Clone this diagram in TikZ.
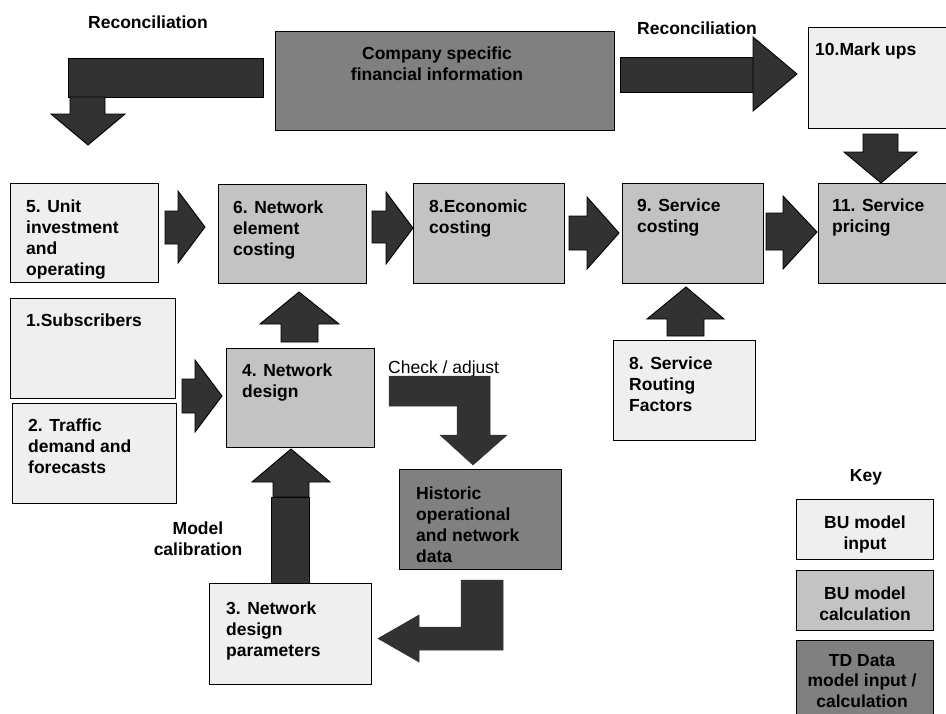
\documentclass[tikz,border=0pt]{standalone}
\usepackage{fontspec}
\setmainfont{Liberation Sans}
\definecolor{inpc}{HTML}{EFEFEF}
\definecolor{calcc}{HTML}{C3C3C3}
\definecolor{tdc}{HTML}{808080}
\definecolor{arrc}{HTML}{323232}
\tikzset{
  box/.style={draw=black, line width=1.3pt, inner sep=0pt, anchor=north west},
  inpbox/.style={box, fill=inpc},
  calcbox/.style={box, fill=calcc},
  tdbox/.style={box, fill=tdc},
  barrow/.style={fill=arrc, draw=black, line width=0.9pt, line join=miter},
  flatarrow/.style={fill=arrc, draw=arrc, line width=0.5pt},
  txt/.style={font=\bfseries\fontsize{17.5}{21}\selectfont, align=left, anchor=north west, inner sep=0pt},
  ctxt/.style={font=\bfseries\fontsize{17.5}{21}\selectfont, align=center, anchor=north, inner sep=0pt},
  plaintxt/.style={font=\fontsize{17.5}{21}\selectfont, anchor=north west, inner sep=0pt}
}
\begin{document}
\begin{tikzpicture}[x=1pt,y=-1pt]
\useasboundingbox (0,0) rectangle (946,713);
\fill[white] (0,0) rectangle (946,713);

% ---------- boxes ----------
\node[tdbox, minimum width=339pt, minimum height=99pt] (comp) at (275,31) {};
\node[inpbox, minimum width=140pt, minimum height=101pt] (n10) at (808,27) {};
\node[inpbox, minimum width=148pt, minimum height=99pt] (n5) at (10,183) {};
\node[calcbox, minimum width=148pt, minimum height=99pt] (n6) at (218,184) {};
\node[calcbox, minimum width=151pt, minimum height=100pt] (n8) at (413,183) {};
\node[calcbox, minimum width=141pt, minimum height=100pt] (n9) at (622,183) {};
\node[calcbox, minimum width=130pt, minimum height=100pt] (n11) at (818,183) {};
\node[inpbox, minimum width=165pt, minimum height=100pt] (n1) at (10,298) {};
\node[inpbox, minimum width=164pt, minimum height=100pt] (n2) at (12,403) {};
\node[calcbox, minimum width=148pt, minimum height=99pt] (n4) at (226,348) {};
\node[inpbox, minimum width=162pt, minimum height=101pt] (n3) at (209,583) {};
\node[tdbox, minimum width=162pt, minimum height=100pt] (hist) at (399,469) {};
\node[inpbox, minimum width=142pt, minimum height=100pt] (rout) at (613,340) {};
\node[inpbox, minimum width=137pt, minimum height=60pt] (k1) at (796,499) {};
\node[calcbox, minimum width=137pt, minimum height=60pt] (k2) at (796,570) {};
\node[tdbox, minimum width=137pt, minimum height=80pt] (k3) at (796,640) {};

% ---------- box texts ----------
\node[ctxt] (tcomp) at (437,47) {Company specific\\financial information};
\node[txt] (t10) at (815,43) {10.Mark ups};
\node[txt] (t5) at (26,200) {5. Unit\\investment\\and\\operating};
\node[txt] (t6) at (233,201) {6. Network\\element\\costing};
\node[txt] (t8) at (429,200) {8.Economic\\costing};
\node[txt] (t9) at (637,199) {9. Service\\costing};
\node[txt] (t11) at (832,199) {11. Service\\pricing};
\node[txt] (t1) at (26,314) {1.Subscribers};
\node[txt] (t2) at (28,419) {2. Traffic\\demand and\\forecasts};
\node[txt] (t4) at (242,364) {4. Network\\design};
\node[txt] (t3) at (226,602) {3. Network\\design\\parameters};
\node[txt] (thist) at (416,487) {Historic\\operational\\and network\\data};
\node[txt] (trout) at (629,357) {8. Service\\Routing\\Factors};
\node[ctxt] (tk1) at (865,516) {BU model\\input};
\node[ctxt] (tk2) at (865,587) {BU model\\calculation};
\node[ctxt, font=\bfseries\fontsize{17.5}{20.5}\selectfont] (tk3) at (862,654) {TD Data\\model input /\\calculation};

% ---------- labels ----------
\node[ctxt] (lrec1) at (148,16) {Reconciliation};
\node[ctxt] (lrec2) at (697,22) {Reconciliation};
\node[ctxt] (lcal) at (198,522) {Model\\calibration};
\node[plaintxt] (lchk) at (388,361) {Check / adjust};
\node[ctxt] (lkey) at (866,469) {Key};

% ---------- block arrows ----------
% reconciliation (left)
\draw[barrow] (68,58) rectangle (263,97);
\draw[barrow] (70,97) -- (105,97) -- (105,114) -- (125,114) -- (88,145) -- (51,114) -- (70,114) -- cycle;
% reconciliation (right)
\draw[barrow] (620,57) rectangle (753,92);
\draw[barrow] (753,37) -- (797,74) -- (753,111) -- cycle;
% 10 -> 11
\draw[barrow] (863,134) -- (898,134) -- (898,152) -- (917,152) -- (881,183) -- (844,152) -- (863,152) -- cycle;
% 5 -> 6
\draw[barrow] (165,211) -- (178,211) -- (178,191) -- (205,227) -- (178,263) -- (178,244) -- (165,244) -- cycle;
% 6 -> 8
\draw[barrow] (372,211) -- (386,211) -- (386,192) -- (413,228) -- (386,264) -- (386,243) -- (372,243) -- cycle;
% 8 -> 9
\draw[barrow] (569,216) -- (587,216) -- (587,197) -- (619,233) -- (587,269) -- (587,250) -- (569,250) -- cycle;
% 9 -> 11
\draw[barrow] (766,213) -- (783,213) -- (783,196) -- (817,232) -- (783,269) -- (783,250) -- (766,250) -- cycle;
% 4 -> 6
\draw[barrow] (281,342) -- (281,324) -- (260,324) -- (299,292) -- (339,324) -- (318,324) -- (318,342) -- cycle;
% 1,2 -> 4
\draw[barrow] (182,379) -- (195,379) -- (195,360) -- (222,396) -- (195,432) -- (195,413) -- (182,413) -- cycle;
% 3 -> 4
\draw[barrow] (271,497) rectangle (309,583);
\draw[barrow] (273,497) -- (273,482) -- (252,482) -- (291,449) -- (330,482) -- (309,482) -- (309,497) -- cycle;
% routing -> 9
\draw[barrow] (667,336) -- (667,319) -- (647,319) -- (686,287) -- (724,319) -- (704,319) -- (704,336) -- cycle;
% check / adjust
\draw[flatarrow] (389,376) -- (490,376) -- (490,435) -- (507,435) -- (473,465) -- (440,435) -- (457,435) -- (457,406) -- (389,406) -- cycle;
% historic -> 3
\draw[flatarrow] (461,580) -- (503,580) -- (503,650) -- (419,650) -- (419,662) -- (378,638.5) -- (419,615) -- (419,627) -- (461,627) -- cycle;
\end{tikzpicture}
\end{document}
